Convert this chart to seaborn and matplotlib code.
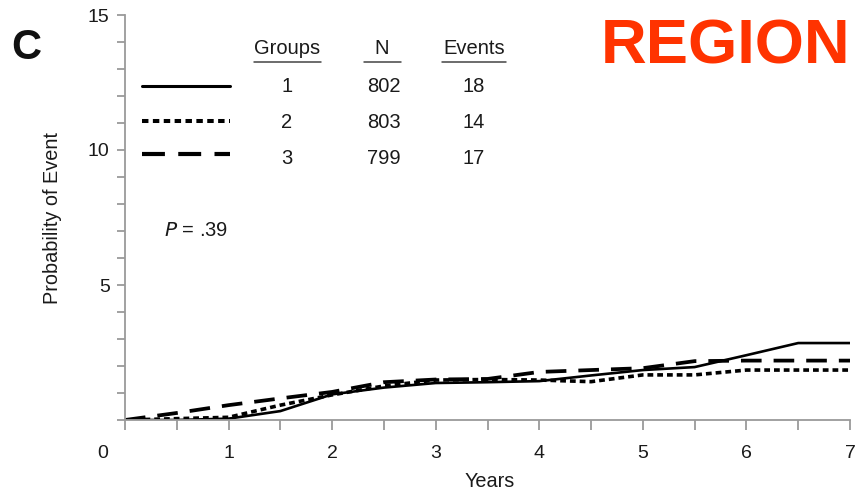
import numpy as np
import pandas as pd
import matplotlib
matplotlib.use("Agg")
import matplotlib.pyplot as plt
import matplotlib.transforms as mtransforms
import seaborn as sns

# Cumulative probability of event (%) by follow-up year
years = [0, 0.5, 1, 1.5, 2, 2.5, 3, 3.5, 4, 4.5, 5, 5.5, 6, 6.5, 7]
group1 = [0, 0.0, 0.05, 0.33, 0.95, 1.2, 1.37, 1.4, 1.44, 1.65, 1.85, 1.96, 2.4, 2.85, 2.85]
group2 = [0, 0.05, 0.1, 0.55, 0.93, 1.26, 1.48, 1.5, 1.48, 1.42, 1.67, 1.67, 1.85, 1.85, 1.85]
group3 = [0, 0.26, 0.55, 0.8, 1.04, 1.4, 1.5, 1.52, 1.78, 1.85, 1.92, 2.18, 2.2, 2.2, 2.2]

groups = ["1", "2", "3"]
n_patients = ["802", "803", "799"]
n_events = ["18", "14", "17"]
p_value = ".39"

df = pd.DataFrame({
    "Years": years * 3,
    "Probability": group1 + group2 + group3,
    "Group": sum([[g] * len(years) for g in groups], []),
})

sns.set_theme(style="white")
plt.rcParams["font.family"] = ["Liberation Sans", "DejaVu Sans"]

fig = plt.figure(figsize=(8.55, 4.92), dpi=100)
ax = fig.add_axes([125 / 855, 1 - 420 / 492, 725 / 855, 405 / 492])

styles = {"1": dict(ls="-", lw=1.9), "2": dict(ls=(0, (1.6, 1.1)), lw=2.6),
          "3": dict(ls=(0, (5.5, 3.2)), lw=2.7)}
for g in groups:
    sub = df[df["Group"] == g]
    sns.lineplot(data=sub, x="Years", y="Probability", ax=ax, color="black",
                 linestyle=styles[g]["ls"], linewidth=styles[g]["lw"],
                 legend=False, solid_joinstyle="miter")

ax.set_xlim(0, 7)
ax.set_ylim(0, 15)
ax.set_xticks(np.arange(0, 7.01, 0.5))
ax.set_xticklabels(["0" if v == 0 else (str(int(v)) if v == int(v) else "")
                    for v in np.arange(0, 7.01, 0.5)])
ax.set_yticks(range(0, 16))
ax.set_yticklabels([str(v) if v in (5, 10, 15) else "" for v in range(16)])

grey = "#9a9a9a"
txt_col = "#1a1a1a"
for side in ("top", "right"):
    ax.spines[side].set_visible(False)
for side in ("left", "bottom"):
    ax.spines[side].set_color(grey)
    ax.spines[side].set_linewidth(1.3)
ax.tick_params(axis="x", direction="out", length=7, width=1.3, color=grey,
               pad=11, labelsize=14, labelcolor=txt_col, bottom=True)
ax.tick_params(axis="y", direction="out", length=6, width=1.3, color=grey,
               pad=5, labelsize=14, labelcolor=txt_col, left=True)
# origin label sits left of the corner
lbl0 = ax.get_xticklabels()[0]
lbl0.set_transform(lbl0.get_transform() +
                   mtransforms.ScaledTranslation(-0.22, 0, fig.dpi_scale_trans))

ax.set_xlabel("Years", fontsize=14.3, color=txt_col)
ax.set_ylabel("Probability of Event", fontsize=14.3, color=txt_col)
ax.xaxis.set_label_coords(365 / 725, -52 / 405)
ax.yaxis.set_label_coords(-63 / 725, 0.5)

# Group table in the upper left
def fx(px):
    return (px - 125) / 725

def fy(py):
    return (420 - py) / 405

fs = 14.5
hdr_y = fy(48)
row_y = [fy(87), fy(122), fy(158)]
for txt, x in (("Groups", 287), ("N", 382), ("Events", 474)):
    ax.text(fx(x), hdr_y, txt, transform=ax.transAxes, ha="center",
            va="center", fontsize=fs, color=txt_col)
for x0, x1 in ((254, 321), (364, 401), (442, 506)):
    ax.plot([fx(x0), fx(x1)], [fy(62)] * 2, transform=ax.transAxes,
            color="#444444", lw=1.1, clip_on=False)
for i, g in enumerate(groups):
    ax.text(fx(287), row_y[i], g, transform=ax.transAxes, ha="center",
            va="center", fontsize=fs, color=txt_col)
    ax.text(fx(384), row_y[i], n_patients[i], transform=ax.transAxes,
            ha="center", va="center", fontsize=fs, color=txt_col)
    ax.text(fx(474), row_y[i], n_events[i], transform=ax.transAxes,
            ha="center", va="center", fontsize=fs, color=txt_col)
    ax.plot([fx(142), fx(230)], [fy([86, 121, 154][i])] * 2,
            transform=ax.transAxes, color="black",
            linestyle=styles[g]["ls"], linewidth=styles[g]["lw"] + 0.3)

ax.text(fx(164), fy(230), r"$P$" + " = " + p_value, transform=ax.transAxes,
        ha="left", va="center", fontsize=fs, color=txt_col)

fig.text(11 / 855, 1 - 48 / 492, "C", fontsize=30, fontweight="bold",
         ha="left", va="center", color="#111111")
fig.text(601 / 855, 1 - 47 / 492, "REGION", fontsize=45.5, fontweight="bold",
         ha="left", va="center", color="#ff3300")

fig.savefig("out.png", dpi=100)
